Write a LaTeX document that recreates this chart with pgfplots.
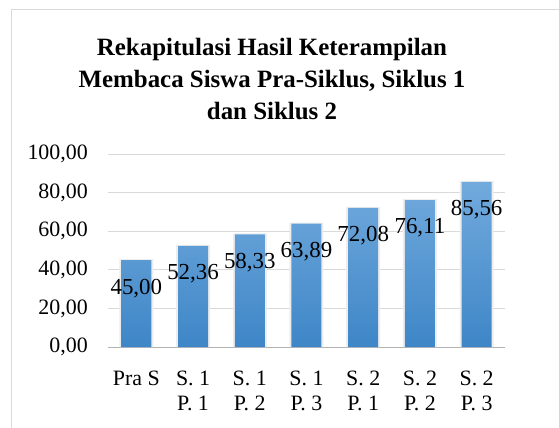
\documentclass[border=0pt]{standalone}
\usepackage{pgfplots}
\pgfplotsset{compat=1.18}
\usepackage{fontspec}
\setmainfont{Liberation Serif}
\definecolor{gridc}{RGB}{217,217,217}
\definecolor{bartop}{RGB}{114,170,221}
\definecolor{barbot}{RGB}{62,134,199}
\begin{document}
\begin{tikzpicture}
\useasboundingbox (-108bp,-81bp) rectangle (451bp,347bp);
\draw[gridc, line width=0.8bp] (-97bp,-100bp) -- (-97bp,338bp) -- (470bp,338bp);
\node[font=\bfseries\fontsize{25}{32}\selectfont, align=center] at (164bp,268bp)
  {Rekapitulasi Hasil Keterampilan\\Membaca Siswa Pra-Siklus, Siklus 1\\dan Siklus 2};
\begin{axis}[
  at={(0,0)}, anchor=south west,
  scale only axis, width=397bp, height=193bp,
  xmin=-0.5, xmax=6.5, ymin=0, ymax=100,
  ytick={0,20,40,60,80,100},
  xtick={0,1,2,3,4,5,6},
  xticklabels={{Pra S},{S. 1\\P. 1},{S. 1\\P. 2},{S. 1\\P. 3},{S. 2\\P. 1},{S. 2\\P. 2},{S. 2\\P. 3}},
  x tick label style={font=\fontsize{22}{25}\selectfont, align=center, anchor=north, inner sep=0pt, yshift=-24bp},
  y tick label style={font=\fontsize{22}{25}\selectfont, anchor=east, inner sep=0pt, xshift=-20bp},
  /pgf/number format/.cd, fixed, fixed zerofill, precision=2, use comma, assume math mode=true,
  /pgfplots/.cd,
  ymajorgrids, grid style={gridc, line width=0.8bp},
  major tick length=0pt,
  axis x line*=bottom, axis y line*=left,
  x axis line style={draw=black!30, line width=0.8bp},
  y axis line style={draw=none},
  clip=false,
]
\addplot[ybar, bar width=34bp, bar shift=0pt, fill=black!7, draw=none]
  coordinates {(0,45.5) (1,52.86) (2,58.83) (3,64.39) (4,72.58) (5,76.61) (6,86.06)};
\addplot[ybar, bar width=30bp, bar shift=0pt, top color=bartop, bottom color=barbot, draw=none,
  nodes near coords,
  every node near coord/.append style={font=\fontsize{23}{25}\selectfont, anchor=center, yshift=-28bp, text=black}]
  coordinates {(0,45.00) (1,52.36) (2,58.33) (3,63.89) (4,72.08) (5,76.11) (6,85.56)};
\end{axis}
\end{tikzpicture}
\end{document}
